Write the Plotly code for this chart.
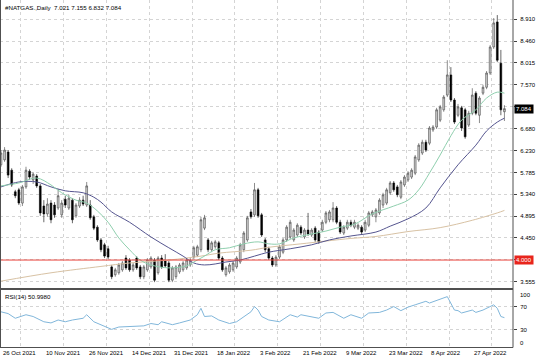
import plotly.graph_objects as go

W, H = 536, 357

# ---------------- data ----------------
symbol_title = "#NATGAS.,Daily  7.021 7.155 6.832 7.084"
rsi_title = "RSI(14) 50.9980"

date_labels = ["26 Oct 2021", "10 Nov 2021", "26 Nov 2021", "14 Dec 2021", "31 Dec 2021",
               "18 Jan 2022", "3 Feb 2022", "21 Feb 2022", "9 Mar 2022", "23 Mar 2022",
               "8 Apr 2022", "27 Apr 2022"]
date_label_bars = [0, 12, 24, 36, 48, 60, 72, 84, 96, 108, 120, 132]
grid_bars = [5.5, 17.5, 29.5, 41.5, 53.5, 65.5, 77.5, 89.5, 101.5, 113.5, 125.5, 137.5]

price_ticks = [8.910, 8.460, 8.015, 7.570, 7.125, 6.680, 6.230, 5.785, 5.340, 4.895, 4.450, 4.005, 3.555]
price_tick_text = ["8.910", "8.460", "8.015", "7.570", "", "6.680", "6.230", "5.785", "5.340",
                   "4.895", "4.450", "", "3.555"]
last_price = 7.084
level_price = 4.000

opens = [5.94, 6.04, 6.20, 5.83, 5.39, 5.43, 5.16, 5.49, 5.81, 5.63,
         5.71, 5.51, 5.10, 4.94, 5.16, 5.12, 5.06, 4.92, 5.24, 5.06,
         5.22, 4.90, 5.10, 5.22, 5.12, 5.12, 4.88, 4.67, 4.41, 4.31,
         4.23, 3.86, 3.70, 3.74, 3.80, 4.04, 4.00, 3.80, 4.04, 3.86,
         3.66, 3.80, 3.86, 4.00, 3.74, 4.04, 3.98, 3.94, 3.59, 3.66,
         3.76, 3.80, 3.84, 3.90, 4.06, 4.10, 4.21, 4.65, 4.41, 4.21,
         4.27, 4.35, 4.04, 3.70, 3.76, 3.80, 3.86, 3.96, 4.21, 4.41,
         4.98, 4.92, 5.43, 4.92, 4.41, 4.23, 4.04, 3.90, 4.06, 4.16,
         4.41, 4.47, 4.41, 4.51, 4.67, 4.47, 4.61, 4.51, 4.65, 4.57,
         4.61, 4.77, 4.82, 4.82, 5.06, 4.77, 4.55, 4.65, 4.77, 4.67,
         4.65, 4.67, 4.61, 4.71, 4.92, 4.88, 4.96, 5.12, 5.16, 5.37,
         5.57, 5.49, 5.28, 5.53, 5.63, 5.69, 5.77, 6.04, 6.18, 6.40,
         6.38, 6.65, 6.71, 6.85, 7.06, 7.36, 7.77, 7.26, 6.95, 7.10,
         7.06, 6.75, 6.99, 7.40, 6.95, 7.40, 7.52, 7.81, 8.34, 8.85,
         8.01, 7.021]
highs = [6.24, 6.30, 6.24, 5.87, 5.43, 5.47, 5.53, 5.90, 5.85, 5.79,
         5.75, 5.55, 5.22, 5.26, 5.22, 5.18, 5.45, 5.22, 5.31, 5.33,
         5.26, 5.16, 5.28, 5.31, 5.59, 5.22, 4.92, 4.71, 4.45, 4.35,
         4.29, 3.90, 3.84, 3.94, 3.98, 4.10, 4.04, 3.94, 4.08, 3.90,
         3.90, 4.04, 4.08, 4.04, 4.08, 4.10, 4.12, 3.98, 3.88, 3.90,
         3.94, 3.98, 4.04, 4.04, 4.29, 4.31, 4.88, 4.92, 4.45, 4.39,
         4.41, 4.39, 4.08, 3.88, 3.94, 3.98, 4.08, 4.35, 4.59, 4.90,
         5.04, 5.57, 5.47, 4.96, 4.45, 4.27, 4.08, 4.10, 4.31, 4.45,
         4.71, 4.82, 4.65, 4.75, 4.71, 4.65, 4.96, 4.65, 4.69, 4.61,
         4.82, 5.00, 5.02, 5.18, 5.10, 4.82, 4.71, 4.82, 4.82, 4.82,
         4.75, 4.71, 4.82, 5.00, 5.02, 5.06, 5.26, 5.37, 5.47, 5.61,
         5.61, 5.53, 5.63, 5.73, 5.81, 5.87, 6.14, 6.38, 6.45, 6.45,
         6.73, 6.75, 7.10, 7.16, 7.36, 8.07, 7.93, 7.30, 7.18, 7.14,
         7.10, 7.04, 7.50, 7.44, 7.34, 7.57, 7.85, 8.38, 8.93, 8.99,
         8.28, 7.155]
lows = [5.90, 6.00, 5.67, 5.49, 5.26, 5.12, 5.10, 5.45, 5.63, 5.55,
        5.47, 4.90, 4.77, 4.88, 4.75, 4.86, 5.02, 4.86, 5.06, 5.02,
        4.75, 4.86, 5.06, 5.10, 5.08, 4.82, 4.61, 4.37, 4.16, 4.04,
        4.02, 3.61, 3.66, 3.70, 3.76, 3.80, 3.76, 3.76, 3.80, 3.61,
        3.61, 3.76, 3.82, 3.55, 3.70, 3.82, 3.84, 3.55, 3.55, 3.61,
        3.72, 3.76, 3.80, 3.86, 4.02, 4.06, 4.16, 4.61, 4.16, 4.16,
        4.23, 4.00, 3.76, 3.66, 3.72, 3.76, 3.82, 3.92, 4.16, 4.37,
        4.84, 4.88, 4.86, 4.47, 4.16, 4.00, 3.86, 3.86, 4.02, 4.12,
        4.37, 4.43, 4.37, 4.47, 4.51, 4.43, 4.49, 4.47, 4.37, 4.33,
        4.57, 4.73, 4.77, 4.77, 4.73, 4.53, 4.51, 4.61, 4.67, 4.63,
        4.61, 4.53, 4.57, 4.67, 4.88, 4.77, 4.92, 5.06, 5.12, 5.33,
        5.39, 5.28, 5.24, 5.49, 5.59, 5.65, 5.73, 6.00, 6.14, 6.20,
        6.34, 6.61, 6.67, 6.81, 7.02, 7.32, 7.22, 6.77, 6.91, 6.63,
        6.47, 6.71, 6.95, 6.95, 6.79, 7.36, 7.48, 7.77, 8.30, 8.03,
        6.95, 6.832]
closes = [6.18, 6.24, 5.73, 5.53, 5.31, 5.16, 5.49, 5.83, 5.69, 5.75,
          5.51, 4.96, 4.94, 5.14, 4.82, 4.92, 5.31, 5.16, 5.12, 5.26,
          4.82, 5.12, 5.22, 5.14, 5.51, 4.86, 4.65, 4.41, 4.21, 4.08,
          4.06, 3.66, 3.80, 3.90, 3.94, 3.84, 3.80, 3.90, 3.84, 3.66,
          3.86, 4.00, 4.04, 3.59, 4.04, 3.86, 3.88, 3.59, 3.84, 3.86,
          3.90, 3.94, 4.00, 4.00, 4.25, 4.27, 4.82, 4.86, 4.21, 4.35,
          4.37, 4.04, 3.80, 3.84, 3.90, 3.94, 4.04, 4.31, 4.55, 4.86,
          4.88, 5.43, 4.90, 4.51, 4.21, 4.04, 3.90, 4.06, 4.27, 4.41,
          4.67, 4.77, 4.61, 4.71, 4.55, 4.61, 4.53, 4.61, 4.41, 4.37,
          4.77, 4.96, 4.98, 5.06, 4.77, 4.57, 4.67, 4.77, 4.71, 4.77,
          4.71, 4.57, 4.77, 4.96, 4.98, 5.02, 5.22, 5.33, 5.43, 5.57,
          5.43, 5.33, 5.59, 5.69, 5.77, 5.83, 6.10, 6.34, 6.40, 6.24,
          6.69, 6.71, 7.06, 7.12, 7.32, 7.77, 7.26, 6.81, 7.12, 6.69,
          6.51, 6.99, 7.36, 6.99, 7.30, 7.52, 7.81, 8.34, 8.83, 8.07,
          7.06, 7.084]
bars = list(range(len(closes)))

ma_fast_bars = [0, 5, 10, 14, 17, 21, 24, 27, 30, 33, 36, 39, 42, 47, 52, 54, 57, 60, 64, 68,
                72, 75, 78, 82, 87, 91, 95, 99, 104, 110, 114, 117, 120, 123, 126, 129, 133, 136, 139, 141]
ma_fast = [5.51, 5.57, 5.67, 5.53, 5.37, 5.22, 5.16, 5.00, 4.77, 4.45, 4.21, 4.00, 3.90, 3.84, 3.88,
           3.96, 4.08, 4.21, 4.25, 4.33, 4.37, 4.33, 4.33, 4.45, 4.53, 4.59, 4.67, 4.73, 4.94, 5.10,
           5.22, 5.43, 5.77, 6.14, 6.53, 6.85, 7.06, 7.30, 7.42, 7.40]

ma_slow_bars = [0, 5, 10, 14, 18, 23, 26, 28, 31, 36, 42, 47, 51, 54, 57, 60, 63, 67, 71, 75,
                81, 87, 92, 98, 105, 109, 114, 119, 123, 128, 133, 136, 139, 141]
ma_slow = [5.49, 5.59, 5.59, 5.49, 5.41, 5.37, 5.28, 5.18, 4.98, 4.77, 4.47, 4.25, 4.08, 3.94, 3.90,
           3.92, 3.96, 4.00, 4.08, 4.16, 4.23, 4.31, 4.41, 4.49, 4.57, 4.69, 4.84, 5.06, 5.47, 5.94,
           6.34, 6.63, 6.81, 6.89]

ma_long_bars = [0, 14, 28, 36, 47, 56, 61, 70, 75, 84, 98, 105, 114, 123, 132, 139, 141]
ma_long = [3.57, 3.74, 3.87, 3.94, 4.00, 4.08, 4.14, 4.20, 4.26, 4.33, 4.44, 4.48, 4.58, 4.66,
           4.81, 4.96, 5.01]

rsi_bars = [0, 2, 4, 7, 9, 12, 14, 16, 18, 20, 23, 24, 26, 30, 31, 33, 37, 40, 42, 44, 45, 48,
            50, 53, 55, 56, 57, 59, 61, 64, 66, 68, 70, 71, 72, 73, 75, 78, 81, 83, 84, 89, 91,
            93, 96, 98, 101, 103, 106, 108, 110, 112, 114, 116, 119, 120, 122, 125, 127, 128,
            129, 132, 133, 135, 138, 139, 140, 141]
rsi_vals = [61, 58, 50, 56, 53, 44, 42, 47, 44, 47, 50, 56, 44, 33, 31, 35, 36, 37, 41, 39, 44, 39,
            42, 47, 56, 67, 53, 54, 47, 41, 44, 53, 61, 70, 64, 53, 47, 44, 56, 52, 56, 50, 59,
            60, 50, 56, 50, 59, 60, 64, 70, 63, 69, 73, 79, 76, 80, 87, 64, 63,
            59, 64, 60, 64, 73, 67, 53, 51.0]
rsi_ticks = [70, 30]

# ---------------- layout geometry (pixels) ----------------
PLOT_R = 513      # right edge of the chart area
MAIN_BOT = 289    # separator between price and RSI panes
RSI_BOT = 347.5   # bottom of RSI pane
FONT = "Liberation Sans"
GRID = "#d4d4d4"
AXFONT = 6.0


def fx(p):
    return p / W


def fy(p):
    return 1 - p / H


fig = go.Figure()

fig.add_trace(go.Candlestick(
    x=bars, open=opens, high=highs, low=lows, close=closes,
    increasing=dict(fillcolor="#d6d6d6", line=dict(color="#404040", width=0.6)),
    decreasing=dict(fillcolor="#000000", line=dict(color="#000000", width=0.6)),
    whiskerwidth=0, showlegend=False, hoverinfo="skip", xaxis="x", yaxis="y"))

fig.add_trace(go.Scatter(x=ma_long_bars, y=ma_long, mode="lines", line=dict(color="#d8c2a4", width=1, shape="spline"),
                         showlegend=False, hoverinfo="skip", xaxis="x", yaxis="y"))
fig.add_trace(go.Scatter(x=ma_slow_bars, y=ma_slow, mode="lines", line=dict(color="#55558f", width=1, shape="spline"),
                         showlegend=False, hoverinfo="skip", xaxis="x", yaxis="y"))
fig.add_trace(go.Scatter(x=ma_fast_bars, y=ma_fast, mode="lines", line=dict(color="#8fcfae", width=1, shape="spline"),
                         showlegend=False, hoverinfo="skip", xaxis="x", yaxis="y"))

fig.add_trace(go.Scatter(x=rsi_bars, y=rsi_vals, mode="lines", line=dict(color="#80b6da", width=1),
                         showlegend=False, hoverinfo="skip", xaxis="x2", yaxis="y2"))

xrange = [-0.28, 143.4]
common_x = dict(range=xrange, domain=[0, fx(PLOT_R)], showticklabels=False, ticks="",
                tickvals=grid_bars, showgrid=True, gridcolor=GRID, griddash="dot", gridwidth=1,
                zeroline=False, showline=False, fixedrange=True)

fig.update_layout(
    width=W, height=H, margin=dict(l=0, r=0, t=0, b=0, autoexpand=False),
    paper_bgcolor="white", plot_bgcolor="white",
    font=dict(family=FONT, size=6, color="#000000"),
    xaxis=dict(**common_x, anchor="y", rangeslider=dict(visible=False)),
    xaxis2=dict(**common_x, anchor="y2", matches="x"),
    yaxis=dict(domain=[fy(MAIN_BOT), 1], range=[3.410, 9.297], side="right", anchor="x",
               tickvals=price_ticks, ticktext=price_tick_text, ticks="outside", ticklen=3,
               tickcolor="#404040", tickfont=dict(family=FONT, size=AXFONT, color="#000"),
               ticklabelstandoff=2, showgrid=True, gridcolor=GRID, griddash="dot",
               zeroline=False, showline=False, fixedrange=True, automargin=False),
    yaxis2=dict(domain=[fy(RSI_BOT), fy(MAIN_BOT)], range=[0, 100], side="right", anchor="x2",
                tickvals=rsi_ticks, ticktext=[str(v) for v in rsi_ticks], ticks="outside", ticklen=3,
                tickcolor="#404040", tickfont=dict(family=FONT, size=AXFONT, color="#000"),
                ticklabelstandoff=2, showgrid=True, gridcolor=GRID, griddash="dot",
                zeroline=False, showline=False, fixedrange=True, automargin=False),
)

shapes = []
shapes.append(dict(type="line", xref="paper", yref="y", x0=0, x1=fx(PLOT_R), y0=level_price, y1=level_price,
                   line=dict(color="#e8453c", width=1)))
shapes.append(dict(type="line", xref="paper", yref="paper", x0=fx(PLOT_R), x1=fx(PLOT_R), y0=fy(RSI_BOT), y1=1,
                   line=dict(color="#505050", width=1)))
shapes.append(dict(type="line", xref="paper", yref="paper", x0=fx(0.5), x1=fx(0.5), y0=fy(RSI_BOT), y1=1,
                   line=dict(color="#505050", width=1)))
shapes.append(dict(type="line", xref="paper", yref="paper", x0=0, x1=fx(PLOT_R), y0=fy(RSI_BOT), y1=fy(RSI_BOT),
                   line=dict(color="#505050", width=1)))
shapes.append(dict(type="line", xref="paper", yref="paper", x0=0, x1=fx(PLOT_R), y0=fy(MAIN_BOT), y1=fy(MAIN_BOT),
                   line=dict(color="#505050", width=2)))
fig.update_layout(shapes=shapes)

ann = []
ann.append(dict(text=symbol_title, xref="paper", yref="paper", x=fx(3), y=fy(2), xanchor="left", yanchor="top",
                showarrow=False, font=dict(family=FONT, size=6.2, color="#000")))
ann.append(dict(text=rsi_title, xref="paper", yref="paper", x=fx(3), y=fy(291), xanchor="left", yanchor="top",
                showarrow=False, font=dict(family=FONT, size=6.2, color="#000")))
ann.append(dict(text="%.3f" % last_price, xref="paper", yref="y", x=fx(PLOT_R + 1), y=last_price,
                xanchor="left", yanchor="middle", showarrow=False, bgcolor="#000000", borderpad=1,
                font=dict(family=FONT, size=AXFONT, color="#ffffff")))
ann.append(dict(text="%.3f" % level_price, xref="paper", yref="y", x=fx(PLOT_R + 1), y=level_price,
                xanchor="left", yanchor="middle", showarrow=False, bgcolor="#e8251c", borderpad=1,
                font=dict(family=FONT, size=AXFONT, color="#ffffff")))
ann.append(dict(text="100", xref="paper", yref="paper", x=fx(PLOT_R + 5), y=fy(295), xanchor="left",
                yanchor="middle", showarrow=False, font=dict(family=FONT, size=AXFONT, color="#000")))
ann.append(dict(text="0", xref="paper", yref="paper", x=fx(PLOT_R + 5), y=fy(343), xanchor="left",
                yanchor="middle", showarrow=False, font=dict(family=FONT, size=AXFONT, color="#000")))
for lbl, b in zip(date_labels, date_label_bars):
    ann.append(dict(text=lbl, xref="x2", yref="paper", x=b, y=fy(352.5), xanchor="left", yanchor="middle",
                    showarrow=False, font=dict(family=FONT, size=6, color="#000")))
fig.update_layout(annotations=ann)

fig.write_html("out.html", config={"staticPlot": True},
               post_script="document.body.style.margin='0';document.body.style.overflow='hidden';")
